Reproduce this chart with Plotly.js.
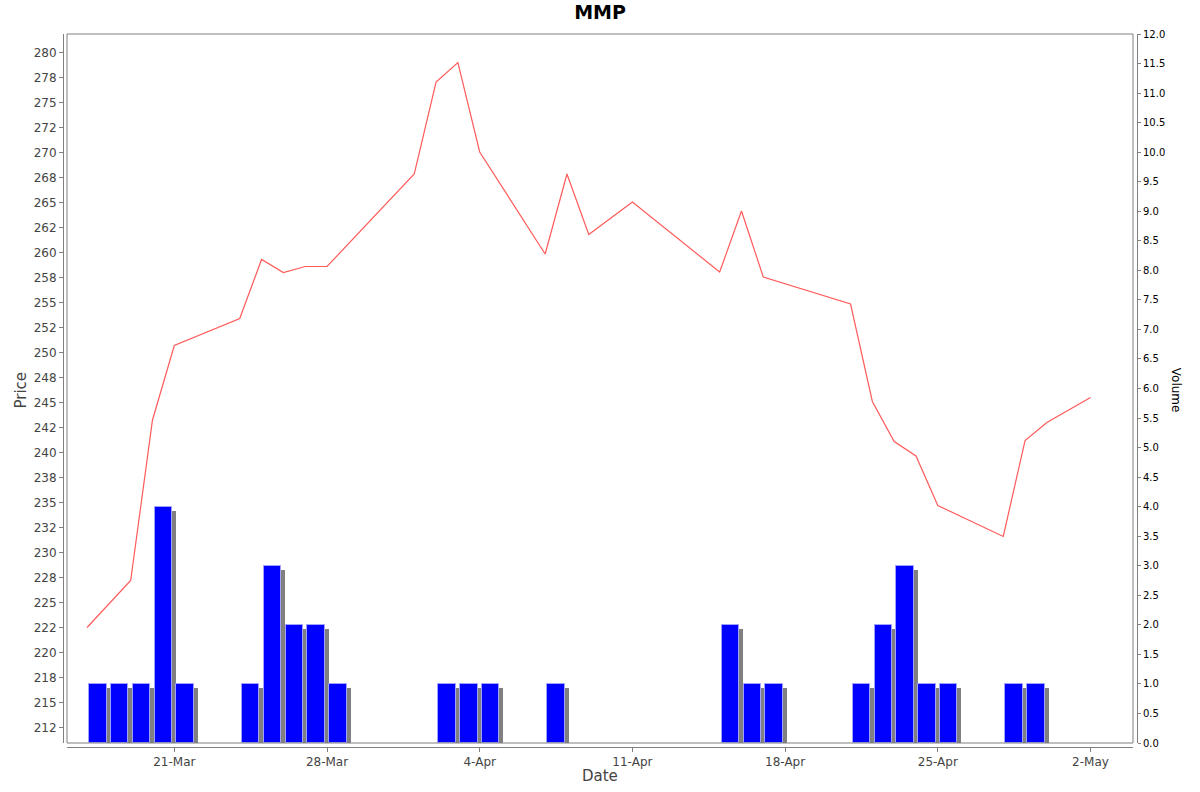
<!DOCTYPE html>
<html>
<head>
<meta charset="utf-8">
<script src="https://cdn.plot.ly/plotly-3.0.1.min.js"></script>
<style>html,body{margin:0;padding:0;background:#fff;}#chart{width:1200px;height:792px;}</style>
</head>
<body>
<div id="chart"></div>
<script>
// Price series
var priceDates = ["2022-03-17","2022-03-19","2022-03-20","2022-03-21","2022-03-24","2022-03-25","2022-03-26","2022-03-27","2022-03-28","2022-04-01","2022-04-02","2022-04-03","2022-04-04","2022-04-07","2022-04-08","2022-04-09","2022-04-11","2022-04-15","2022-04-16","2022-04-17","2022-04-21","2022-04-22","2022-04-23","2022-04-24","2022-04-25","2022-04-28","2022-04-29","2022-04-30","2022-05-02"];
var prices = [222.5,227.2,243.25,250.7,253.4,259.3,258.0,258.6,258.6,267.85,277.05,279.0,270.05,259.85,267.85,261.8,265.05,258.05,264.15,257.55,254.85,245.1,241.1,239.65,234.7,231.6,241.2,243.0,245.5];

// Volume series
var volDates = ["2022-03-17","2022-03-18","2022-03-19","2022-03-20","2022-03-21","2022-03-24","2022-03-25","2022-03-26","2022-03-27","2022-03-28","2022-04-02","2022-04-03","2022-04-04","2022-04-07","2022-04-15","2022-04-16","2022-04-17","2022-04-21","2022-04-22","2022-04-23","2022-04-24","2022-04-25","2022-04-28","2022-04-29"];
var volumes = [1,1,1,4,1,1,3,2,2,1,1,1,1,1,2,1,1,1,2,3,1,1,1,1];

// Axis ticks
var priceTickVals = [];
var priceTickText = ["212","215","218","220","222","225","228","230","232","235","238","240","242","245","248","250","252","255","258","260","262","265","268","270","272","275","278","280"];
for (var i = 0; i < priceTickText.length; i++) priceTickVals.push(212.5 + 2.5 * i);

var DAY = 86400000;
function shiftDate(s, ms) {
  var d = new Date(s + "T00:00:00Z").getTime() + ms;
  return new Date(d).toISOString().replace("Z", "");
}
var barX = volDates.map(function (d) { return shiftDate(d, DAY / 2); });
var shadowX = volDates.map(function (d) { return shiftDate(d, DAY / 2 + 0.1834 * DAY); });
var shadowY = volumes.map(function (v) { return v - 0.068; });

var font = "DejaVu Sans, Liberation Sans, sans-serif";

var traces = [
  {
    type: "bar", x: shadowX, y: shadowY, yaxis: "y2",
    width: 0.8 * DAY, marker: { color: "#808080", line: { width: 0 } },
    hoverinfo: "skip", showlegend: false
  },
  {
    type: "bar", x: barX, y: volumes, yaxis: "y2", name: "Volume",
    width: 0.8 * DAY, marker: { color: "#0000ff", line: { color: "#a0a0ff", width: 1 } },
    showlegend: false
  },
  {
    type: "scatter", mode: "lines", x: priceDates, y: prices, name: "Price",
    line: { color: "#ff5a5a", width: 1.2 }, showlegend: false
  }
];

var layout = {
  width: 1200, height: 792,
  paper_bgcolor: "#ffffff", plot_bgcolor: "#ffffff",
  margin: { l: 63, r: 63, t: 34, b: 45, pad: 0 },
  barmode: "overlay",
  bargap: 0,
  showlegend: false,
  title: {
    text: "<b>MMP</b>", x: 0.5, xanchor: "center", y: 0.984, yanchor: "middle",
    font: { family: font, size: 19, color: "#000000" }
  },
  xaxis: {
    type: "date",
    domain: [4 / 1074, 1 - 4 / 1074],
    range: ["2022-03-16 01:57", "2022-05-03 22:45"],
    anchor: "free", position: 0,
    tick0: "2022-03-21", dtick: 7 * DAY,
    tickformat: "%-d-%b",
    ticks: "outside", ticklen: 4, tickcolor: "#808080", tickwidth: 1,
    showline: true, linecolor: "#808080", linewidth: 1,
    showgrid: false, zeroline: false,
    tickfont: { family: font, size: 12, color: "#444444" }
  },
  yaxis: {
    domain: [4 / 713, 1],
    range: [210.95, 281.85],
    anchor: "free", position: 0,
    tickvals: priceTickVals, ticktext: priceTickText,
    ticks: "outside", ticklen: 4, tickcolor: "#808080", tickwidth: 1,
    showline: true, linecolor: "#808080", linewidth: 1,
    showgrid: false, zeroline: false,
    tickfont: { family: font, size: 12, color: "#444444" }
  },
  yaxis2: {
    domain: [4 / 713, 1],
    overlaying: "y", side: "right",
    range: [0, 12],
    anchor: "free", position: 1,
    tick0: 0, dtick: 0.5, tickformat: ".1f",
    ticks: "outside", ticklen: 3, tickcolor: "#808080", tickwidth: 1,
    showline: true, linecolor: "#808080", linewidth: 1,
    showgrid: false, zeroline: false,
    tickfont: { family: font, size: 10, color: "#000000" }
  },
  shapes: [
    { type: "rect", xref: "x domain", yref: "y domain", x0: 0, x1: 1, y0: 0, y1: 1,
      line: { color: "#808080", width: 1 }, fillcolor: "rgba(0,0,0,0)", layer: "above" }
  ],
  annotations: [
    { text: "Price", xref: "paper", yref: "paper", x: -0.040, y: 0.5, xanchor: "center", yanchor: "middle",
      textangle: -90, showarrow: false, font: { family: font, size: 15, color: "#444444" } },
    { text: "Volume", xref: "paper", yref: "paper", x: 1.037, y: 0.5, xanchor: "center", yanchor: "middle",
      textangle: 90, showarrow: false, font: { family: font, size: 12, color: "#000000" } },
    { text: "Date", xref: "paper", yref: "paper", x: 0.5, y: -0.0407, xanchor: "center", yanchor: "middle",
      showarrow: false, font: { family: font, size: 15, color: "#444444" } }
  ]
};

Plotly.newPlot("chart", traces, layout, { displayModeBar: false, responsive: false });
</script>
</body>
</html>
